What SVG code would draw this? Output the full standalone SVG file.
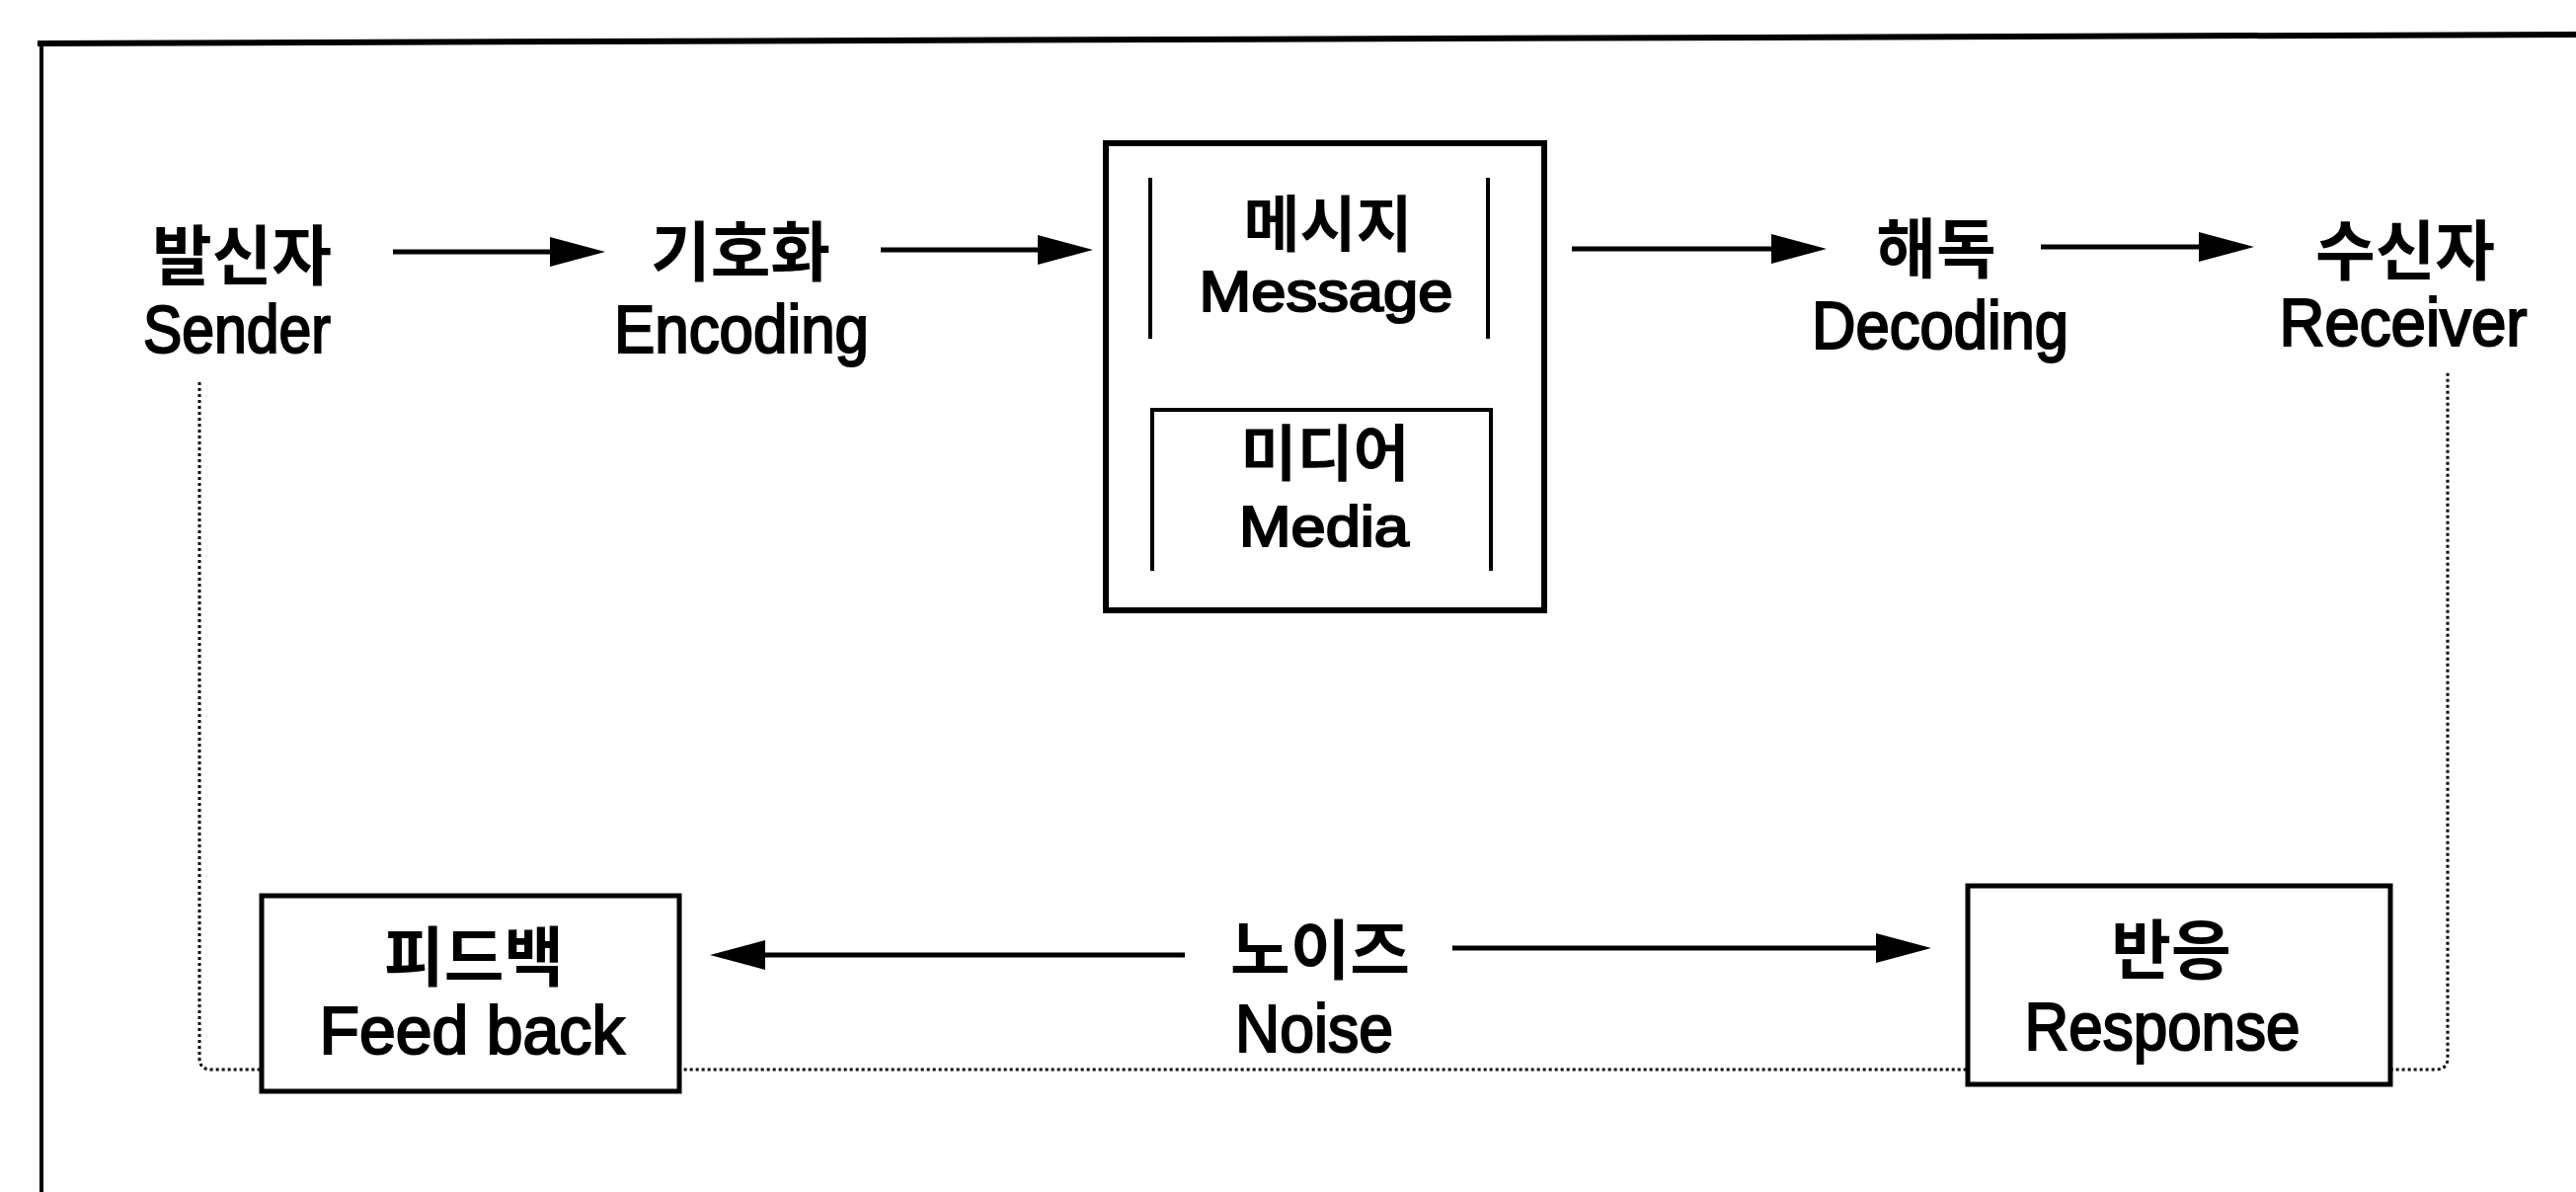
<svg xmlns="http://www.w3.org/2000/svg" width="2609" height="1207" viewBox="0 0 2609 1207">
  <defs>
    <marker id="arrow" viewBox="0 0 56 30" refX="0" refY="15" markerWidth="56" markerHeight="30" markerUnits="userSpaceOnUse" orient="auto">
      <path d="M0,0 L56,15 L0,30 Z" fill="#000"/>
    </marker>
    <style>
      .ko { font-family: "Noto Sans CJK KR", sans-serif; font-weight: 700; font-size: 66px; fill: #000; text-anchor: middle; }
      .ko-box { font-size: 62px; }
      .en { font-family: "Liberation Sans", Arial, sans-serif; font-size: 68px; fill: #000; stroke: #000; stroke-width: 2.2; text-anchor: middle; }
      .en-box { font-size: 58px; }
      .box { fill: #fff; stroke: #000; stroke-width: 5; }
      .frame { fill: none; stroke: #000; }
      .bracket { fill: none; stroke: #000; stroke-width: 4; }
      .arrow { stroke: #000; stroke-width: 5; fill: none; marker-end: url(#arrow); }
      .dotted { fill: none; stroke: #000; stroke-width: 3; stroke-dasharray: 3 3; }
    </style>
  </defs>
  <rect width="2609" height="1207" fill="#fff"/>

  <!-- outer frame (cropped: top and left edges only) -->
  <g id="frame">
    <line class="frame" x1="38" y1="44" x2="2609" y2="35" stroke-width="6"/>
    <line class="frame" x1="42" y1="41" x2="42" y2="1207" stroke-width="4"/>
  </g>

  <!-- connectors -->
  <g id="connectors">
    <path class="dotted" d="M202,387 V1071 Q202,1083 214,1083 H2467 Q2479,1083 2479,1071 V377"/>
    <line class="arrow" x1="398" y1="255" x2="557" y2="255"/>
    <line class="arrow" x1="892" y1="253" x2="1051" y2="253"/>
    <line class="arrow" x1="1592" y1="252" x2="1794" y2="252"/>
    <line class="arrow" x1="2067" y1="250" x2="2227" y2="250"/>
    <line class="arrow" x1="1200" y1="967" x2="775" y2="967"/>
    <line class="arrow" x1="1471" y1="960" x2="1900" y2="960"/>
  </g>

  <g id="sender">
    <text class="ko" x="245" y="283">발신자</text>
    <text class="en" x="240" y="357" textLength="190" lengthAdjust="spacingAndGlyphs">Sender</text>
  </g>

  <g id="encoding">
    <text class="ko" x="750" y="279">기호화</text>
    <text class="en" x="751" y="357" textLength="258" lengthAdjust="spacingAndGlyphs">Encoding</text>
  </g>

  <g id="message-media">
    <rect x="1120" y="145" width="444" height="473" fill="#fff" stroke="#000" stroke-width="6"/>
    <g id="message">
      <path class="bracket" d="M1165,180 V343 M1507,180 V343"/>
      <text class="ko ko-box" x="1345" y="250">메시지</text>
      <text class="en en-box" x="1343" y="315" textLength="257" lengthAdjust="spacingAndGlyphs">Message</text>
    </g>
    <g id="media">
      <path class="bracket" d="M1167,578 V415 H1510 V578"/>
      <text class="ko ko-box" x="1342" y="482">미디어</text>
      <text class="en en-box" x="1341" y="553" textLength="172" lengthAdjust="spacingAndGlyphs">Media</text>
    </g>
  </g>

  <g id="decoding">
    <text class="ko" x="1961" y="276">해독</text>
    <text class="en" x="1965" y="353" textLength="260" lengthAdjust="spacingAndGlyphs">Decoding</text>
  </g>

  <g id="receiver">
    <text class="ko" x="2436" y="278">수신자</text>
    <text class="en" x="2434" y="350" textLength="251" lengthAdjust="spacingAndGlyphs">Receiver</text>
  </g>

  <g id="feedback">
    <rect class="box" x="265" y="907" width="423" height="198"/>
    <text class="ko" x="480" y="993">피드백</text>
    <text class="en" x="478" y="1067" textLength="309" lengthAdjust="spacingAndGlyphs">Feed back</text>
  </g>

  <g id="noise">
    <text class="ko" x="1337" y="986">노이즈</text>
    <text class="en" x="1331" y="1065" textLength="160" lengthAdjust="spacingAndGlyphs">Noise</text>
  </g>

  <g id="response">
    <rect class="box" x="1993" y="897" width="428" height="201"/>
    <text class="ko" x="2199" y="986">반응</text>
    <text class="en" x="2190" y="1063" textLength="279" lengthAdjust="spacingAndGlyphs">Response</text>
  </g>
</svg>
